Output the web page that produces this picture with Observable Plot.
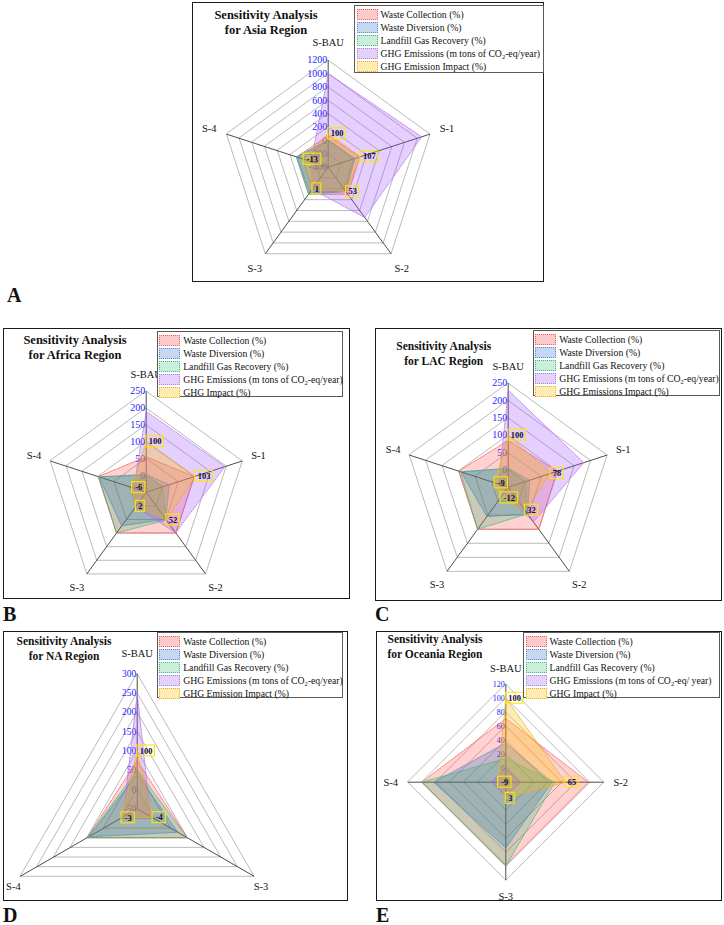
<!DOCTYPE html>
<html><head><meta charset="utf-8">
<script src="https://cdn.jsdelivr.net/npm/d3@7"></script>
<script src="https://cdn.jsdelivr.net/npm/@observablehq/plot@0.6"></script>
<style>
body{margin:0;background:#fff;}
#page{position:relative;width:724px;height:925px;overflow:hidden;font-family:"Liberation Serif",serif;color:#111;}
.chart{position:absolute;}
.panel{position:absolute;border:1.5px solid #1a1a1a;box-sizing:border-box;pointer-events:none;}
.title{position:absolute;font-weight:bold;text-align:center;line-height:15px;white-space:nowrap;transform:translateX(-50%);}
.legend{position:absolute;background:#fff;border:1px solid #5a5a5a;box-sizing:border-box;}
.row{position:absolute;left:1.5px;height:11px;display:flex;align-items:center;white-space:nowrap;font-size:9.7px;line-height:11px;}
.sw{width:21px;height:11px;box-sizing:border-box;border:1px dotted;margin-right:3px;flex:none;}
.row sub{font-size:6.5px;vertical-align:-2px;line-height:0;}
.letter{position:absolute;font-weight:bold;font-size:20px;line-height:16px;}
</style></head><body><div id="page"></div>
<script>
// ---------------- DATA ----------------
const seriesKeys = ["Waste Collection", "Waste Diversion", "Landfill Gas Recovery", "GHG Emissions", "GHG Impact"];

const asiaScenarios = ["S-BAU", "S-1", "S-2", "S-3", "S-4"];
const asiaCollection = [70, 100, 100, 100, 100];
const asiaDiversion = [10, 20, 50, 70, 90];
const asiaLandfillGas = [0, 0, 50, 100, 100];
const asiaGHG = [1000, 1070, 530, 10, -130];
const asiaImpact = [100, 107, 53, 1, -13];
const asiaTicks = [-400, -200, 0, 200, 400, 600, 800, 1000, 1200];
const asiaLegend = ["Waste Collection (%)", "Waste Diversion (%)", "Landfill Gas Recovery (%)", "GHG Emissions (m tons of CO<sub>2</sub>-eq/year)", "GHG Emission Impact (%)"];

const africaScenarios = ["S-BAU", "S-1", "S-2", "S-3", "S-4"];
const africaCollection = [55, 100, 100, 100, 100];
const africaDiversion = [3, 22, 49, 74, 97];
const africaLandfillGas = [0, 2, 52, 100, 98];
const africaGHG = [190, 196, 99, 4, -11];
const africaImpact = [100, 103, 52, 2, -6];
const africaTicks = [-50, 0, 50, 100, 150, 200, 250];
const africaLegend = ["Waste Collection (%)", "Waste Diversion (%)", "Landfill Gas Recovery (%)", "GHG Emissions (m tons of CO<sub>2</sub>-eq/year)", "GHG Impact (%)"];

const lacScenarios = ["S-BAU", "S-1", "S-2", "S-3", "S-4"];
const lacCollection = [85, 98, 100, 100, 100];
const lacDiversion = [5, 15, 45, 55, 93];
const lacLandfillGas = [3, 3, 45, 100, 95];
const lacGHG = [230, 179, 74, -28, -21];
const lacImpact = [100, 78, 32, -12, -9];
const lacTicks = [-50, 0, 50, 100, 150, 200, 250];
const lacLegend = ["Waste Collection (%)", "Waste Diversion (%)", "Landfill Gas Recovery (%)", "GHG Emissions (m tons of CO<sub>2</sub>-eq/year)", "GHG Emissions Impact (%)"];

const naScenarios = ["S-BAU", "S-3", "S-4"];
const naCollection = [75, 100, 100];
const naDiversion = [40, 72, 95];
const naLandfillGas = [50, 100, 100];
const naGHG = [250, -10, -8];
const naImpact = [100, -4, -3];
const naTicks = [-50, 0, 50, 100, 150, 200, 250, 300];
const naLegend = ["Waste Collection (%)", "Waste Diversion (%)", "Landfill Gas Recovery (%)", "GHG Emissions (m tons of CO<sub>2</sub>-eq/year)", "GHG Emission Impact (%)"];

const oceaniaScenarios = ["S-BAU", "S-2", "S-3", "S-4"];
const oceaniaCollection = [71, 98, 98, 100];
const oceaniaDiversion = [36, 46, 74, 83];
const oceaniaLandfillGas = [14, 50, 100, 100];
const oceaniaGHG = [3, 2, 0, -0.5];
const oceaniaImpact = [100, 65, 3, -9];
const oceaniaTicks = [-20, 0, 20, 40, 60, 80, 100, 120];
const oceaniaLegend = ["Waste Collection (%)", "Waste Diversion (%)", "Landfill Gas Recovery (%)", "GHG Emissions (m tons of CO<sub>2</sub>-eq/ year)", "GHG Impact (%)"];

// ---------------- STYLE ----------------
const fills = ["#ff4040", "#4472c4", "#00b050", "#9b4dff", "#ffc000"];
const fillOps = [0.24, 0.3, 0.2, 0.27, 0.3];
const strokes = ["#ff5a5a", "#5b8ad6", "#3fbf7a", "#b07ae8", "#e6b020"];
const swatches = ["#fbcaca", "#c7d7f0", "#c9eedb", "#e4d2fa", "#ffecb3"];

const panels = [
  {name: "Asia", letter: "A", scen: asiaScenarios, vals: [asiaCollection, asiaDiversion, asiaLandfillGas, asiaGHG, asiaImpact], ticks: asiaTicks, legend: asiaLegend,
   box: [192, 2, 352, 280], center: [327.7, 166.7], R: 107, kx: 18, ky: 18, tickFont: 10, showMin: true,
   title: [266, 8.2, 12.5], leg: [354, 5, 190, 68], letterPos: [7, 287]},
  {name: "Africa", letter: "B", scen: africaScenarios, vals: [africaCollection, africaDiversion, africaLandfillGas, africaGHG, africaImpact], ticks: africaTicks, legend: africaLegend,
   box: [3, 328, 347, 271], center: [145.7, 491.7], R: 101, kx: 17, ky: 17, tickFont: 10, showMin: false,
   title: [75, 333.2, 12.5], leg: [156.7, 331, 186.6, 66], letterPos: [3, 606]},
  {name: "LAC", letter: "C", scen: lacScenarios, vals: [lacCollection, lacDiversion, lacLandfillGas, lacGHG, lacImpact], ticks: lacTicks, legend: lacLegend,
   box: [375, 328, 347, 273], center: [507.7, 486.7], R: 104, kx: 17, ky: 17, tickFont: 10, showMin: false,
   title: [443.7, 338.5, 11.5], leg: [532.7, 330, 187.6, 66], letterPos: [375, 606]},
  {name: "NA", letter: "D", scen: naScenarios, vals: [naCollection, naDiversion, naLandfillGas, naGHG, naImpact], ticks: naTicks, legend: naLegend,
   box: [3, 631, 345, 270], center: [136.7, 808.3], R: 135, kx: 8, ky: 20, tickFont: 9.5, showMin: true,
   title: [64, 633.5, 11.5], leg: [156.7, 631.5, 186.6, 66], letterPos: [3, 907]},
  {name: "Oceania", letter: "E", scen: oceaniaScenarios, vals: [oceaniaCollection, oceaniaDiversion, oceaniaLandfillGas, oceaniaGHG, oceaniaImpact], ticks: oceaniaTicks, legend: oceaniaLegend,
   box: [376, 631, 346, 270], center: [505.3, 781.7], R: 98, kx: 17, ky: 16, tickFont: 8, showMin: false,
   title: [435, 631.8, 11.5], leg: [523, 632.3, 197.3, 66], letterPos: [376, 907]}
];

const page = document.getElementById("page");

function radarPlot(p) {
  const [L, T, W, H] = p.box;
  const cx = p.center[0] - L, cy = p.center[1] - T, R = p.R;
  const n = p.scen.length;
  const tmin = p.ticks[0], tmax = p.ticks[p.ticks.length - 1];
  const r = d3.scaleLinear().domain([tmin, tmax]).range([0, 1]);
  const ang = i => 2 * Math.PI * i / n;
  const px = (i, v) => r(v) * Math.sin(ang(i));
  const py = (i, v) => r(v) * Math.cos(ang(i));

  const rings = p.ticks.slice(1).flatMap(t => p.scen.map((s, i) => ({t, x: px(i, t), y: py(i, t)})));
  const spokes = p.scen.map((s, i) => ({s, x: px(i, tmax), y: py(i, tmax)}));
  const tickLabels = (p.showMin ? p.ticks : p.ticks.slice(1)).map(t => ({t, x: 0, y: py(0, t)}));
  const catLabels = p.scen.map((s, i) => ({s,
    x: Math.sin(ang(i)) * (1 + p.kx / R),
    y: Math.cos(ang(i)) * (1 + p.ky / R)}));
  const impact = p.vals[4];
  const dataLabels = impact.map((v, i) => {
    const w = String(v).length * 4.4 + 4.5;
    return {v, x: px(i, v), y: py(i, v), w: w / R, h: 11 / R};
  });

  const marks = [
    Plot.line(rings, {x: "x", y: "y", z: "t", curve: "linear-closed", stroke: "#a8a8a8", strokeWidth: 0.8}),
    Plot.link(spokes, {x1: d => 0, y1: d => 0, x2: "x", y2: "y", stroke: "#3a3a3a", strokeWidth: 0.9}),
    Plot.text(tickLabels, {x: "x", y: "y", text: d => String(d.t), textAnchor: "end", dx: -1, lineAnchor: "middle",
      fill: "#2323ff", fontSize: p.tickFont, fontFamily: "Liberation Serif"})
  ];
  p.vals.forEach((vals, j) => {
    const pts = vals.map((v, i) => ({x: px(i, v), y: py(i, v)}));
    marks.push(Plot.line(pts, {x: "x", y: "y", curve: "linear-closed", fill: fills[j], fillOpacity: fillOps[j],
      stroke: strokes[j], strokeWidth: 0.8, strokeDasharray: "1.6,1.2"}));
  });
  marks.push(
    Plot.rect(dataLabels, {x1: "x", x2: d => d.x + d.w, y1: d => d.y - d.h / 2, y2: d => d.y + d.h / 2,
      fill: "none", stroke: "#ffe600", strokeWidth: 1.1}),
    Plot.text(dataLabels, {x: d => d.x + d.w / 2, y: "y", text: d => String(d.v), lineAnchor: "middle",
      fill: "#111", fontSize: 8.5, fontWeight: "bold", fontFamily: "Liberation Serif"}),
    Plot.text(catLabels, {x: "x", y: "y", text: "s", lineAnchor: "middle", fill: "#111",
      fontSize: 10.5, fontFamily: "Liberation Serif"})
  );

  return Plot.plot({
    width: W, height: H, margin: 0,
    x: {domain: [-1, 1], range: [cx - R, cx + R], axis: null},
    y: {domain: [-1, 1], range: [cy + R, cy - R], axis: null},
    style: {background: "transparent", overflow: "visible", fontFamily: "Liberation Serif"},
    marks
  });
}

panels.forEach(p => {
  const [L, T, W, H] = p.box;
  const svg = radarPlot(p);
  svg.classList.add("chart");
  svg.style.left = L + "px";
  svg.style.top = T + "px";
  page.appendChild(svg);

  const border = document.createElement("div");
  border.className = "panel";
  Object.assign(border.style, {left: L + "px", top: T + "px", width: W + "px", height: H + "px"});
  page.appendChild(border);

  const title = document.createElement("div");
  title.className = "title";
  title.innerHTML = "Sensitivity Analysis<br>for " + p.name + " Region";
  Object.assign(title.style, {left: p.title[0] + "px", top: p.title[1] + "px", fontSize: p.title[2] + "px"});
  page.appendChild(title);

  const leg = document.createElement("div");
  leg.className = "legend";
  Object.assign(leg.style, {left: p.leg[0] + "px", top: p.leg[1] + "px", width: p.leg[2] + "px", height: p.leg[3] + "px"});
  p.legend.forEach((lab, j) => {
    const row = document.createElement("div");
    row.className = "row";
    row.style.top = (3 + j * 13) + "px";
    row.innerHTML = `<div class="sw" style="background:${swatches[j]};border-color:${strokes[j]}"></div><span>${lab}</span>`;
    leg.appendChild(row);
  });
  page.appendChild(leg);

  const letter = document.createElement("div");
  letter.className = "letter";
  letter.textContent = p.letter;
  Object.assign(letter.style, {left: p.letterPos[0] + "px", top: p.letterPos[1] + "px"});
  page.appendChild(letter);
});
</script></body></html>
